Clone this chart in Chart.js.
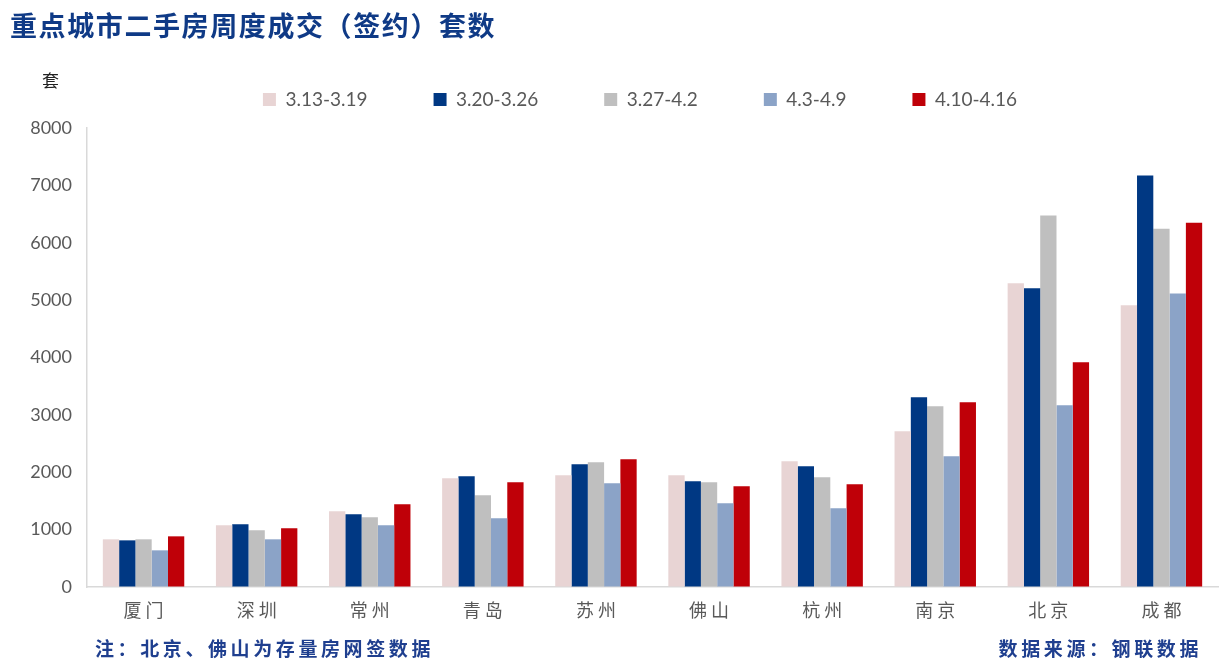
<!DOCTYPE html>
<html>
<head>
<meta charset="utf-8">
<script src="https://cdn.jsdelivr.net/npm/chart.js@4.4.0/dist/chart.umd.min.js"></script>
<style>
  body { margin: 0; background: #fff; }
  #wrap { position: relative; width: 1232px; height: 665px; }
  #grafico { position: absolute; left: 0; top: 0; width: 1232px; height: 665px; }
  .txt { position: absolute; white-space: nowrap; line-height: 1; font-family: "Noto Sans CJK SC", sans-serif; }
  #titulo { left: 10px; top: 11px; font-size: 27px; font-weight: bold; color: #0F3A86; letter-spacing: 1.6px; }
  #unidad { left: 42px; top: 71px; font-size: 17px; color: #222; }
  #nota { left: 95px; top: 638px; font-size: 19px; font-weight: bold; color: #1F3F8F; letter-spacing: 3.6px; }
  #fuente { right: 30px; top: 638px; font-size: 19px; font-weight: bold; color: #1F3F8F; letter-spacing: 3.6px; }
</style>
</head>
<body>
<div id="wrap">
  <canvas id="grafico" width="1232" height="665"></canvas>
  <div class="txt" id="titulo">重点城市二手房周度成交（签约）套数</div>
  <div class="txt" id="unidad">套</div>
  <div class="txt" id="nota">注：北京、佛山为存量房网签数据</div>
  <div class="txt" id="fuente">数据来源：钢联数据</div>
</div>
<script>
// Datos del grafico
var ciudades = ["厦 门", "深 圳", "常 州", "青 岛", "苏 州", "佛 山", "杭 州", "南 京", "北 京", "成 都"];
var semanas = ["3.13-3.19", "3.20-3.26", "3.27-4.2", "4.3-4.9", "4.10-4.16"];
var sem1 = [831, 1075, 1319, 1894, 1947, 1947, 2191, 2713, 5292, 4909];
var sem2 = [813, 1092, 1266, 1929, 2139, 1843, 2104, 3306, 5205, 7171];
var sem3 = [831, 988, 1215, 1598, 2174, 1825, 1912, 3149, 6477, 6245];
var sem4 = [639, 831, 1075, 1197, 1808, 1459, 1371, 2277, 3166, 5116];
var sem5 = [883, 1022, 1441, 1824, 2226, 1755, 1790, 3219, 3916, 6350];
var yTicks = [0, 1000, 2000, 3000, 4000, 5000, 6000, 7000, 8000];

var colores = ['#E8D4D4', '#003883', '#BFBFBF', '#8BA3C7', '#BF0008'];
var series = [sem1, sem2, sem3, sem4, sem5];

// Ajustes de la leyenda: espacio debajo y desplazamiento a la derecha
var ajusteLeyenda = {
  id: 'ajusteLeyenda',
  afterInit: function (chart) {
    var fitOrig = chart.legend.fit;
    chart.legend.fit = function () {
      fitOrig.call(this);
      this.height += 9;
    };
  },
  afterLayout: function (chart) {
    chart.legend.left += 21;
    chart.legend.right += 21;
  }
};

var ctx = document.getElementById('grafico').getContext('2d');

new Chart(ctx, {
  type: 'bar',
  data: {
    labels: ciudades,
    datasets: series.map(function (s, i) {
      return {
        label: semanas[i],
        data: s,
        backgroundColor: colores[i],
        borderWidth: 0,
        categoryPercentage: 0.72,
        barPercentage: 1.0
      };
    })
  },
  options: {
    responsive: false,
    maintainAspectRatio: false,
    animation: false,
    layout: { padding: { left: 20, right: 14, top: 24, bottom: 38 } },
    plugins: {
      legend: {
        position: 'top',
        labels: {
          boxWidth: 13,
          boxHeight: 13,
          padding: 66,
          color: '#595959',
          font: { family: 'Lato', size: 19 }
        }
      },
      tooltip: { enabled: false }
    },
    scales: {
      x: {
        grid: { display: false, drawTicks: false },
        border: { color: '#D9D9D9', width: 1.5 },
        ticks: {
          color: '#595959',
          padding: 12,
          maxRotation: 0,
          font: { family: 'Noto Sans CJK SC', size: 18 }
        },
        afterFit: function (scale) { scale.height = 40; }
      },
      y: {
        min: 0,
        max: 8000,
        grid: { color: 'transparent', drawTicks: false },
        border: { color: '#D9D9D9', width: 1.5 },
        afterBuildTicks: function (scale) {
          scale.ticks = yTicks.map(function (v) { return { value: v }; });
        },
        ticks: {
          color: '#595959',
          padding: 15,
          font: { family: 'Lato', size: 18 },
          callback: function (v) { return String(v); }
        },
        afterFit: function (scale) { scale.width = 67; }
      }
    }
  },
  plugins: [ajusteLeyenda]
});
</script>
</body>
</html>
